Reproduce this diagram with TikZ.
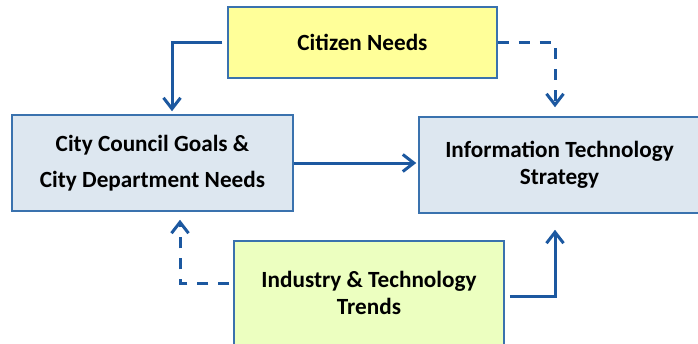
\documentclass[tikz,border=0pt]{standalone}
\usepackage{fontspec}
\setmainfont{Carlito}
\usetikzlibrary{arrows.meta}
\definecolor{conncol}{RGB}{28,88,160}
\definecolor{boxline}{RGB}{58,114,174}
\definecolor{citfill}{RGB}{255,255,153}
\definecolor{blufill}{RGB}{221,231,240}
\definecolor{indfill}{RGB}{236,255,192}
\begin{document}
\begin{tikzpicture}[x=1pt,y=-1pt,
  box/.style={draw=boxline, line width=1.5pt, align=center, inner sep=0pt,
    font=\fontsize{23.2}{27.5}\selectfont\bfseries},
  conn/.style={draw=conncol, line width=3pt, -{Straight Barb[length=11pt,width=17pt]}},
  dconn/.style={conn, dash pattern=on 11pt off 10pt}]
\useasboundingbox (0,0) rectangle (698,343);
\clip (0,0) rectangle (698,343);
\node[box, fill=citfill, minimum width=269pt, minimum height=71pt] (cit) at (362.5,42.5) {Citizen Needs};
\node[box, fill=blufill, minimum width=281pt, minimum height=96pt] (council) at (152.5,163) {City Council Goals \&\\[8.5pt]City Department Needs};
\node[box, fill=blufill, minimum width=281pt, minimum height=96pt] (it) at (559.5,165) {Information Technology\\Strategy};
\node[box, fill=indfill, minimum width=270pt, minimum height=104pt] (ind) at (369,293) {Industry \& Technology\\Trends};
\draw[conn, shorten <=5pt, shorten >=3pt] (cit.west) -| ([xshift=19.5pt]council.north);
\draw[dconn, shorten >=9pt] (cit.east) -| ([xshift=-4.5pt]it.north);
\draw[conn, shorten >=2pt] (council.east) -- (council.east -| it.west);
\draw[dconn, shorten <=4pt, shorten >=8pt] ([yshift=10pt]ind.west) -| ([xshift=27.5pt]council.south);
\draw[conn, shorten <=5pt, shorten >=16pt] ([yshift=-3pt]ind.east) -| ([xshift=-4.5pt]it.south);
\end{tikzpicture}
\end{document}
